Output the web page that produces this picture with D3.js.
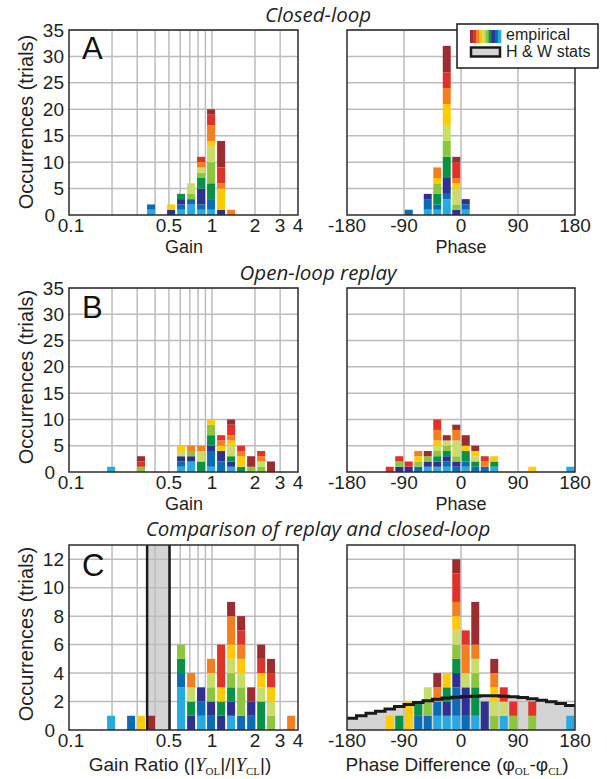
<!DOCTYPE html>
<meta charset="utf-8">
<html>
<body style="margin:0;background:#fff">
<svg width="607" height="779"></svg>
<script src="https://d3js.org/d3.v7.min.js"></script>
<script>
// colours of the stacked segments, bottom to top
var stackColors = ["#27aae1", "#0b6cb5", "#2e3192", "#079247", "#8cc63f",
                   "#c9dd6b", "#ffcb05", "#f47f21", "#e0322a", "#9b2d30"];

// A: closed-loop gain (bin centre) and counts per colour [lb,b,n,dg,g,lg,y,o,r,dr]
var gainBinsA = [0.375, 0.518, 0.608, 0.715, 0.839, 0.986, 1.159, 1.361];
var gainCountsA = [
  [1,1,0,0,0,0,0,0,0,0],
  [0,0,1,0,0,0,1,0,0,0],
  [1,1,1,1,0,0,0,0,0,0],
  [2,1,0,0,1,2,0,0,0,0],
  [1,1,3,2,1,1,0,1,1,0],
  [1,2,0,3,4,3,1,3,2,1],
  [0,0,1,0,0,0,4,1,3,5],
  [0,0,0,0,0,0,0,1,0,0]
];
// A: closed-loop phase
var phaseBinsA = [-82.5, -52.5, -37.5, -22.5, -7.5, 7.5];
var phaseCountsA = [
  [0,1,0,0,0,0,0,0,0,0],
  [1,2,1,0,0,0,0,0,0,0],
  [1,1,0,2,2,0,1,2,0,0],
  [3,1,3,4,3,3,4,3,3,5],
  [0,0,1,0,1,3,1,1,3,1],
  [1,1,1,0,0,0,0,0,0,0]
];

// B: open-loop replay gain
var gainBinsB = [0.197, 0.319, 0.608, 0.715, 0.839, 0.986, 1.159, 1.361, 1.60, 1.88, 2.21, 2.59];
var gainCountsB = [
  [1,0,0,0,0,0,0,0,0,0],
  [0,0,0,0,1,0,0,0,1,1],
  [1,1,1,0,0,1,1,0,0,0],
  [2,0,1,0,1,0,0,1,0,0],
  [0,0,0,2,0,2,0,1,0,0],
  [1,3,1,2,2,0,1,0,0,0],
  [0,2,2,0,0,0,1,1,1,0],
  [1,0,1,1,0,2,1,1,2,1],
  [0,0,0,1,0,0,2,1,1,0],
  [0,0,0,0,1,0,0,0,0,2],
  [0,0,0,0,1,1,0,1,1,0],
  [0,0,0,0,0,0,0,0,0,2]
];
// B: open-loop replay phase
var phaseBinsB = [-112.5, -97.5, -82.5, -67.5, -52.5, -37.5, -22.5, -7.5, 7.5, 22.5, 37.5, 52.5, 112.5, 172.5];
var phaseCountsB = [
  [0,0,0,0,0,0,0,0,1,0],
  [0,0,1,0,1,0,0,0,1,0],
  [0,0,1,0,0,0,0,0,1,0],
  [0,1,0,0,1,0,1,1,0,0],
  [1,0,1,0,1,0,0,0,0,1],
  [1,0,1,1,1,1,1,2,2,0],
  [1,1,1,1,1,1,0,0,0,1],
  [0,1,1,0,1,3,0,2,0,1],
  [1,1,0,2,0,0,1,0,0,2],
  [0,1,0,1,0,1,1,0,0,1],
  [0,1,0,0,0,0,0,1,1,0],
  [1,0,0,1,0,0,1,0,0,0],
  [0,0,0,0,0,0,1,0,0,0],
  [1,0,0,0,0,0,0,0,0,0]
];

// C: gain ratio replay / closed-loop
var gainBinsC = [0.197, 0.272, 0.319, 0.375, 0.608, 0.715, 0.839, 0.986, 1.159, 1.361, 1.60, 1.88, 2.21, 2.59, 3.58];
var gainCountsC = [
  [1,0,0,0,0,0,0,0,0,0],
  [0,1,0,0,0,0,0,0,0,0],
  [0,0,0,0,0,0,1,0,0,0],
  [0,0,0,0,0,0,0,0,0,1],
  [3,1,0,1,1,0,0,0,0,0],
  [0,0,1,1,0,1,0,1,0,0],
  [1,1,1,0,0,0,0,0,0,0],
  [0,1,1,0,1,1,0,1,0,0],
  [0,0,1,1,0,0,1,0,3,0],
  [1,0,1,1,1,1,1,2,0,1],
  [0,1,0,0,2,1,1,1,1,1],
  [0,1,1,0,0,0,0,0,0,1],
  [0,0,0,2,0,1,1,0,1,1],
  [0,0,0,0,1,1,1,0,1,1],
  [0,0,0,0,0,0,0,1,0,0]
];
// C: phase difference
var phaseBinsC = [-112.5, -97.5, -82.5, -67.5, -52.5, -37.5, -22.5, -7.5, 7.5, 22.5, 37.5, 52.5, 67.5, 82.5, 112.5, 172.5];
var phaseCountsC = [
  [0,0,0,0,0,0,1,0,0,0],
  [0,0,0,1,0,0,0,0,0,0],
  [0,0,0,0,0,0,2,0,0,0],
  [0,1,0,1,0,0,0,0,0,0],
  [0,1,0,0,1,1,0,0,0,0],
  [1,1,0,0,0,0,0,1,0,1],
  [1,0,1,1,0,0,1,0,0,0],
  [1,2,1,1,1,1,1,1,2,1],
  [0,1,2,0,0,1,0,2,1,0],
  [1,0,0,2,1,1,0,1,0,3],
  [0,0,2,0,0,0,0,0,0,0],
  [0,0,0,0,1,1,1,1,0,1],
  [1,0,0,0,0,1,0,0,1,0],
  [0,0,0,0,1,0,0,0,1,0],
  [0,0,0,0,1,0,0,0,1,0],
  [1,0,0,0,0,0,0,0,0,0]
];

// H & W statistics: gain ratio interval and phase-difference density (15 deg bins)
var hwGainBand = [0.352, 0.505];
var hwPhaseBins = d3.range(24).map(function(i) { return -172.5 + 15 * i; });
var hwPhaseValues = [0.82, 1.01, 1.18, 1.32, 1.48, 1.65, 1.79, 1.93, 2.05, 2.16, 2.24, 2.31,
                     2.35, 2.38, 2.40, 2.40, 2.38, 2.33, 2.28, 2.19, 2.09, 1.98, 1.86, 1.72];

// axes
var gainTicks = [0.1, 0.5, 1, 2, 3, 4];
var gainGrid = [0.2, 0.3, 0.4, 0.5, 0.6, 0.7, 0.8, 0.9, 1, 2, 3];
var phaseTicks = [-180, -90, 0, 90, 180];
var phaseGrid = [-90, 0, 90];
var countTicksAB = [0, 5, 10, 15, 20, 25, 30, 35];
var countTicksC = [0, 2, 4, 6, 8, 10, 12];

var svg = d3.select("svg");
var sans = "'Liberation Sans', Arial, sans-serif";
var gridColor = "#bdbdc1";

var xGain = d3.scaleLog().domain([0.1, 4]).range([69, 298]);
var xPhase = d3.scaleLinear().domain([-180, 180]).range([347, 575]);
var gainBarHalf = 0.028;   // half bar width in decades
var phaseBarHalf = 6.3;    // half bar width in degrees

function stackBars(g, y, bins, counts, x0, x1) {
  bins.forEach(function(c, i) {
    var base = 0;
    counts[i].forEach(function(n, k) {
      if (n > 0) {
        g.append("rect")
          .attr("x", x0(c))
          .attr("width", x1(c) - x0(c))
          .attr("y", y(base + n))
          .attr("height", y(base) - y(base + n))
          .attr("fill", stackColors[k]);
      }
      base += n;
    });
  });
}

function panel(opt) {
  var x = opt.x;
  var y = d3.scaleLinear().domain([0, opt.yMax]).range([opt.bottom, opt.top]);
  var g = svg.append("g");
  var x0 = x.range()[0], x1 = x.range()[1];

  if (opt.under) opt.under(g, x, y);

  // gridlines
  g.selectAll(".hg").data(opt.yTicks.slice(1)).enter().append("line")
    .attr("x1", x0).attr("x2", x1)
    .attr("y1", function(d) { return y(d); }).attr("y2", function(d) { return y(d); })
    .attr("stroke", gridColor).attr("stroke-width", 1.5);
  g.selectAll(".vg").data(opt.xGrid).enter().append("line")
    .attr("x1", function(d) { return x(d); }).attr("x2", function(d) { return x(d); })
    .attr("y1", opt.top).attr("y2", opt.bottom)
    .attr("stroke", gridColor).attr("stroke-width", 1.5);

  stackBars(g, y, opt.bins, opt.counts, opt.barX0, opt.barX1);

  if (opt.over) opt.over(g, x, y);

  // frame
  g.append("rect")
    .attr("x", x0).attr("y", opt.top)
    .attr("width", x1 - x0).attr("height", opt.bottom - opt.top)
    .attr("fill", "none").attr("stroke", "#2b2b2b").attr("stroke-width", 1.5);

  // x tick labels
  g.selectAll(".xt").data(opt.xTicks).enter().append("text")
    .attr("x", function(d) { return x(d) + (d === 0.1 ? 2 : 0); })
    .attr("y", opt.bottom + 17)
    .attr("text-anchor", "middle")
    .attr("font-family", sans).attr("font-size", 19).attr("fill", "#231f20")
    .text(function(d) { return d; });

  // y tick labels only on the left panels
  if (opt.yLabels) {
    g.selectAll(".yt").data(opt.yTicks).enter().append("text")
      .attr("x", function(d) { return d === 0 ? 55 : 64; })
      .attr("y", function(d) { return y(d) + 6.5; })
      .attr("text-anchor", "end")
      .attr("font-family", sans).attr("font-size", 19).attr("fill", "#231f20")
      .text(function(d) { return d; });
  }
  return { g: g, y: y };
}

function gainPanel(top, bottom, yMax, yTicks, bins, counts, extra) {
  return panel({
    x: xGain, top: top, bottom: bottom, yMax: yMax, yTicks: yTicks,
    xGrid: gainGrid, xTicks: gainTicks, bins: bins, counts: counts, yLabels: true,
    barX0: function(c) { return xGain(c * Math.pow(10, -gainBarHalf)); },
    barX1: function(c) { return xGain(c * Math.pow(10, gainBarHalf)); },
    under: extra && extra.under, over: extra && extra.over
  });
}

function phasePanel(top, bottom, yMax, yTicks, bins, counts, extra) {
  return panel({
    x: xPhase, top: top, bottom: bottom, yMax: yMax, yTicks: yTicks,
    xGrid: phaseGrid, xTicks: phaseTicks, bins: bins, counts: counts, yLabels: false,
    barX0: function(c) { return xPhase(c - phaseBarHalf); },
    barX1: function(c) { return xPhase(c + phaseBarHalf); },
    under: extra && extra.under, over: extra && extra.over
  });
}

// row A
gainPanel(30, 215, 35, countTicksAB, gainBinsA, gainCountsA);
phasePanel(30, 215, 35, countTicksAB, phaseBinsA, phaseCountsA);
// row B
gainPanel(288, 472, 35, countTicksAB, gainBinsB, gainCountsB);
phasePanel(288, 472, 35, countTicksAB, phaseBinsB, phaseCountsB);
// row C with H & W stats
gainPanel(545, 730, 13, countTicksC, gainBinsC, gainCountsC, {
  under: function(g, x, y) {
    g.append("rect")
      .attr("x", x(hwGainBand[0])).attr("width", x(hwGainBand[1]) - x(hwGainBand[0]))
      .attr("y", 545).attr("height", 730 - 545).attr("fill", "#d4d4d4");
  },
  over: function(g, x, y) {
    g.selectAll(".hwl").data(hwGainBand).enter().append("line")
      .attr("x1", function(d) { return x(d); }).attr("x2", function(d) { return x(d); })
      .attr("y1", 545).attr("y2", 730)
      .attr("stroke", "#1a1a1a").attr("stroke-width", 2.5);
  }
});
var hwPts = hwPhaseBins.map(function(c, i) { return [c - 7.5, hwPhaseValues[i]]; });
hwPts.push([180, hwPhaseValues[hwPhaseValues.length - 1]]);
phasePanel(545, 730, 13, countTicksC, phaseBinsC, phaseCountsC, {
  under: function(g, x, y) {
    g.append("path")
      .attr("d", d3.area().curve(d3.curveStepAfter)
        .x(function(d) { return x(d[0]); }).y0(y(0)).y1(function(d) { return y(d[1]); })(hwPts))
      .attr("fill", "#d4d4d4");
  },
  over: function(g, x, y) {
    g.append("path")
      .attr("d", d3.line().curve(d3.curveStepAfter)
        .x(function(d) { return x(d[0]); }).y(function(d) { return y(d[1]); })(hwPts))
      .attr("fill", "none").attr("stroke", "#1a1a1a").attr("stroke-width", 3);
  }
});

// panel letters
[["A", 59], ["B", 318], ["C", 576]].forEach(function(p) {
  svg.append("text").attr("x", 82).attr("y", p[1])
    .attr("font-family", sans).attr("font-size", 31).attr("fill", "#111")
    .text(p[0]);
});

// row titles
[["Closed-loop", 22], ["Open-loop replay", 280], ["Comparison of replay and closed-loop", 536]].forEach(function(t) {
  svg.append("text").attr("x", 318).attr("y", t[1])
    .attr("text-anchor", "middle")
    .attr("font-family", "'Open Sans', sans-serif").attr("font-style", "italic")
    .attr("font-size", 20.5).attr("fill", "#231f20")
    .text(t[0]);
});

// y axis titles
[122, 377, 634].forEach(function(cy) {
  svg.append("text")
    .attr("transform", "translate(33," + cy + ") rotate(-90)")
    .attr("text-anchor", "middle")
    .attr("font-family", sans).attr("font-size", 20).attr("fill", "#231f20")
    .text("Occurrences (trials)");
});

// x axis titles
[253, 510].forEach(function(yy) {
  svg.append("text").attr("x", 184).attr("y", yy).attr("text-anchor", "middle")
    .attr("font-family", sans).attr("font-size", 18).attr("fill", "#231f20").text("Gain");
  svg.append("text").attr("x", 461).attr("y", yy).attr("text-anchor", "middle")
    .attr("font-family", sans).attr("font-size", 18).attr("fill", "#231f20").text("Phase");
});

var serif = "'Liberation Serif', 'Times New Roman', serif";
var gr = svg.append("text").attr("x", 180).attr("y", 771).attr("text-anchor", "middle")
  .attr("font-family", sans).attr("font-size", 19).attr("fill", "#231f20");
gr.append("tspan").text("Gain Ratio (|");
gr.append("tspan").attr("font-family", serif).attr("font-style", "italic").text("Y");
gr.append("tspan").attr("font-family", serif).attr("font-size", 11).attr("dy", 4).text("OL");
gr.append("tspan").attr("dy", -4).text("|/|");
gr.append("tspan").attr("font-family", serif).attr("font-style", "italic").text("Y");
gr.append("tspan").attr("font-family", serif).attr("font-size", 11).attr("dy", 4).text("CL");
gr.append("tspan").attr("dy", -4).text("|)");

var pd = svg.append("text").attr("x", 457).attr("y", 771).attr("text-anchor", "middle")
  .attr("font-family", sans).attr("font-size", 19).attr("fill", "#231f20");
pd.append("tspan").text("Phase Difference (\u03c6");
pd.append("tspan").attr("font-family", serif).attr("font-size", 11).attr("dy", 4).text("OL");
pd.append("tspan").attr("dy", -4).text("-\u03c6");
pd.append("tspan").attr("font-family", serif).attr("font-size", 11).attr("dy", 4).text("CL");
pd.append("tspan").attr("dy", -4).text(")");

// legend
var lg = svg.append("g");
lg.append("rect").attr("x", 457).attr("y", 24).attr("width", 141).attr("height", 44)
  .attr("fill", "#fff").attr("stroke", "#1a1a1a").attr("stroke-width", 1.5);
var sw = d3.scaleBand().domain(d3.range(10)).range([470, 501]);
lg.selectAll(".sw").data(stackColors.slice().reverse()).enter().append("rect")
  .attr("x", function(d, i) { return sw(i); }).attr("width", sw.bandwidth() + 0.3)
  .attr("y", 30).attr("height", 13).attr("fill", function(d) { return d; });
lg.append("rect").attr("x", 471).attr("y", 47.5).attr("width", 29).attr("height", 9)
  .attr("fill", "#d4d4d4").attr("stroke", "#1a1a1a").attr("stroke-width", 2.5);
lg.append("text").attr("x", 506).attr("y", 40).attr("font-family", sans)
  .attr("font-size", 16).attr("fill", "#231f20").text("empirical");
lg.append("text").attr("x", 506).attr("y", 57).attr("font-family", sans)
  .attr("font-size", 16).attr("fill", "#231f20").text("H & W stats");
</script>
</body>
</html>
